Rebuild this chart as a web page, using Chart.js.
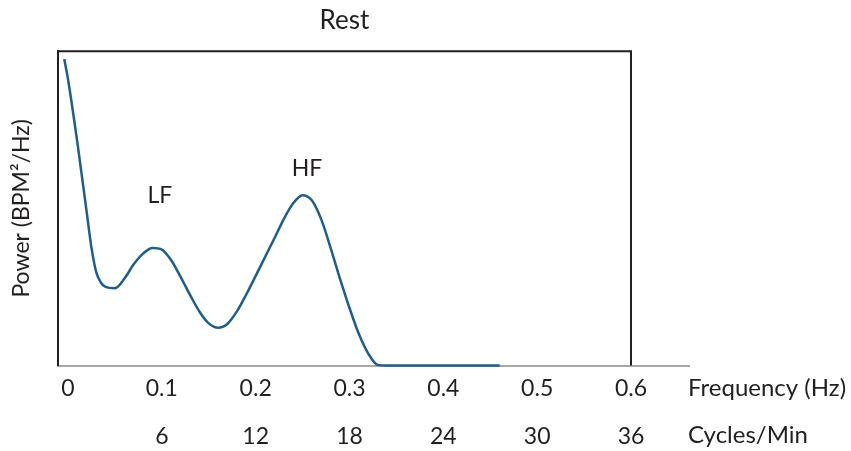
<!DOCTYPE html>
<html>
<head>
<meta charset="utf-8">
<script src="https://cdn.jsdelivr.net/npm/chart.js@4.4.1/dist/chart.umd.min.js"></script>
<style>
  html, body { margin: 0; padding: 0; background: #fff; }
  #wrap { width: 851px; height: 451px; }
</style>
</head>
<body>
<div id="wrap"><canvas id="psdChart"></canvas></div>
<script>
// spectrum (Hz vs relative power)
const freqHz = [-0.004, 0, 0.01, 0.02, 0.025, 0.03, 0.035, 0.04, 0.05, 0.06, 0.07, 0.08, 0.09, 0.10, 0.11, 0.12, 0.13, 0.14, 0.15, 0.16, 0.17, 0.18, 0.19, 0.20, 0.21, 0.22, 0.23, 0.24, 0.25, 0.26, 0.27, 0.28, 0.29, 0.30, 0.31, 0.32, 0.33, 0.34, 0.40, 0.46];
const power  = [97.5, 91.1, 70.9, 48.6, 37.5, 29.8, 26.4, 25.0, 24.6, 27.6, 32.2, 35.6, 37.4, 36.9, 33.5, 28.2, 22.5, 17.2, 13.4, 12.0, 13.3, 17.2, 22.6, 28.5, 34.5, 40.5, 46.6, 51.6, 54.2, 52.5, 46.4, 37.3, 27.5, 18.3, 10.0, 3.8, 0.2, 0, 0, 0];

const tickHz = [0, 0.1, 0.2, 0.3, 0.4, 0.5, 0.6];
const tickHzLabels = ['0', '0.1', '0.2', '0.3', '0.4', '0.5', '0.6'];
const tickCpmLabels = ['', '6', '12', '18', '24', '30', '36'];

const peakNames = ['LF', 'HF'];
const peakHz = [0.098, 0.2548];
const peakLabelPower = [54, 62.6];

const ink = '#231f20';
const fontFam = 'Lato, "Open Sans", sans-serif';

const framePlugin = {
    id: 'frame',
    afterDraw(chart) {
        const c = chart.ctx;
        const x = chart.scales.x, y = chart.scales.y;
        const xEnd = x.getPixelForValue(0.6);
        // top and right edge of the box
        c.save();
        c.strokeStyle = ink;
        c.lineWidth = 2;
        c.beginPath();
        c.moveTo(chart.chartArea.left - 1, y.top);
        c.lineTo(xEnd, y.top);
        c.lineTo(xEnd, y.bottom);
        c.stroke();

        // peak names
        c.fillStyle = ink;
        c.font = '23px ' + fontFam;
        c.textAlign = 'center';
        c.textBaseline = 'middle';
        peakNames.forEach((n, i) => {
            c.fillText(n, x.getPixelForValue(peakHz[i]), y.getPixelForValue(peakLabelPower[i]));
        });

        // axis unit names at the right of the tick rows
        c.font = '24px ' + fontFam;
        c.textAlign = 'left';
        c.fillText('Frequency (Hz)', x.right - 1, x.top + 23);
        c.fillText('Cycles/Min', x.right - 1, x.top + 70);
        c.restore();
    }
};

new Chart(document.getElementById('psdChart'), {
    type: 'line',
    data: {
        datasets: [{
            data: freqHz.map((f, i) => ({ x: f, y: power[i] })),
            borderColor: '#215d8b',
            borderWidth: 2.5,
            pointRadius: 0,
            cubicInterpolationMode: 'monotone',
            fill: false,
            clip: false
        }]
    },
    options: {
        responsive: true,
        maintainAspectRatio: false,
        animation: false,
        layout: { padding: { left: 0, right: 162, top: 0, bottom: 0 } },
        plugins: {
            legend: { display: false },
            tooltip: { enabled: false },
            title: {
                display: true,
                text: 'Rest',
                color: ink,
                font: { family: fontFam, size: 26, weight: 'normal' },
                padding: { top: 5, bottom: 15 }
            }
        },
        scales: {
            x: {
                type: 'linear',
                min: -0.01066,
                max: 0.6618,
                grid: { display: false },
                border: { display: true, color: '#a7a7a7', width: 2 },
                afterBuildTicks: (s) => { s.ticks = tickHz.map(v => ({ value: v })); },
                afterFit: (s) => { s.height = 85.5; },
                ticks: {
                    color: ink,
                    font: { family: fontFam, size: 23, lineHeight: 2.05 },
                    padding: -8,
                    maxRotation: 0,
                    autoSkip: false,
                    callback: (v) => {
                        const i = tickHz.findIndex(t => Math.abs(t - v) < 1e-9);
                        return i < 0 ? '' : [tickHzLabels[i], tickCpmLabels[i]];
                    }
                }
            },
            y: {
                min: 0,
                max: 100,
                grid: { display: false },
                border: { display: true, color: ink, width: 2 },
                ticks: { display: false },
                afterFit: (s) => { s.width = 58; },
                title: {
                    display: true,
                    text: 'Power (BPM²/Hz)',
                    color: ink,
                    font: { family: fontFam, size: 23 },
                    padding: { top: 8, bottom: 0 }
                }
            }
        }
    },
    plugins: [framePlugin]
});
</script>
</body>
</html>
